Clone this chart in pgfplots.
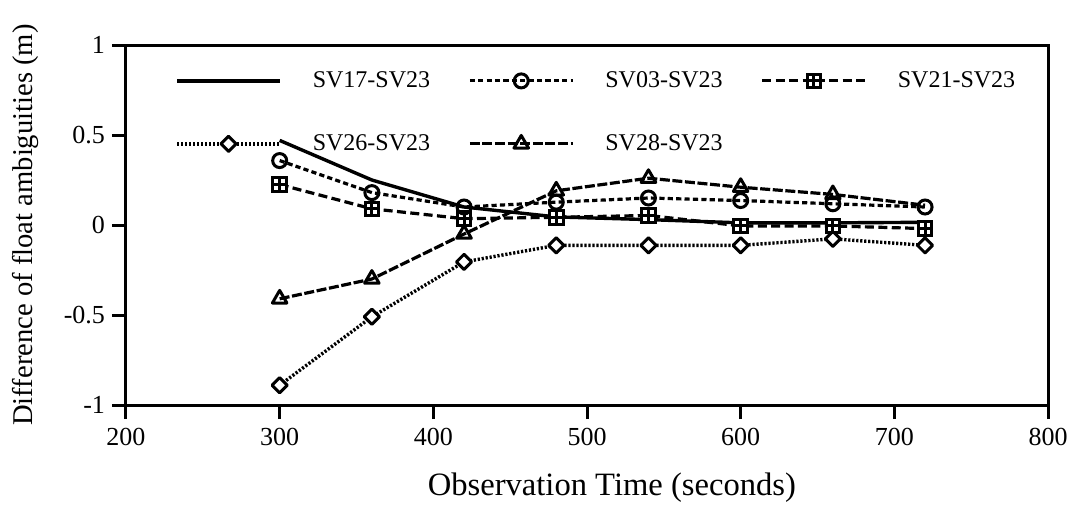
\documentclass[border=0pt]{standalone}
\usepackage{fontspec}
\setmainfont{Liberation Serif}
\usepackage{pgfplots}
\pgfplotsset{compat=1.18}
\usetikzlibrary{plotmarks}

\pgfdeclareplotmark{sqplus}{%
  \pgfpathrectangle{\pgfqpoint{-\pgfplotmarksize}{-\pgfplotmarksize}}{\pgfqpoint{2\pgfplotmarksize}{2\pgfplotmarksize}}%
  \pgfusepathqfillstroke
  \pgfpathmoveto{\pgfqpoint{-\pgfplotmarksize}{0pt}}\pgfpathlineto{\pgfqpoint{\pgfplotmarksize}{0pt}}%
  \pgfpathmoveto{\pgfqpoint{0pt}{-\pgfplotmarksize}}\pgfpathlineto{\pgfqpoint{0pt}{\pgfplotmarksize}}%
  \pgfusepathqstroke}
\pgfdeclareplotmark{rdiamond}{%
  \pgfpathmoveto{\pgfqpoint{0pt}{\pgfplotmarksize}}%
  \pgfpathlineto{\pgfqpoint{\pgfplotmarksize}{0pt}}%
  \pgfpathlineto{\pgfqpoint{0pt}{-\pgfplotmarksize}}%
  \pgfpathlineto{\pgfqpoint{-\pgfplotmarksize}{0pt}}%
  \pgfpathclose
  \pgfusepathqfillstroke}

\tikzset{
  sSV17/.style={line width=1.7pt, solid},
  sSV03/.style={line width=1.6pt, dash pattern=on 2.6pt off 1.6pt, mark=o, mark size=3.5pt, mark options={solid, fill=white, line width=1.5pt}},
  sSV21/.style={line width=1.6pt, dash pattern=on 4.5pt off 2.2pt, mark=sqplus, mark size=3.4pt, mark options={solid, fill=white, line width=1.5pt}},
  sSV26/.style={line width=1.7pt, dash pattern=on 1.1pt off 0.9pt, mark=rdiamond, mark size=3.8pt, mark options={solid, fill=white, line width=1.5pt, line join=round}},
  sSV28/.style={line width=1.6pt, dash pattern=on 5pt off 1.3pt, mark=triangle, mark size=4.2pt, mark options={solid, fill=white, line width=1.5pt, line join=round}},
}

\begin{document}
\begin{tikzpicture}
\path[use as bounding box] (-63pt,-50pt) rectangle (472pt,202.5pt);
\begin{axis}[
  scale only axis,
  width=461pt, height=180pt,
  xmin=200, xmax=800, ymin=-1, ymax=1,
  xtick={200,300,400,500,600,700,800},
  xticklabels={200,300,400,500,600,700,800},
  ytick={-1,-0.5,0,0.5,1},
  yticklabels={-1,-0.5,0,0.5,1},
  tick align=outside,
  xtick pos=bottom, ytick pos=left,
  major tick length=7pt,
  axis line style={line width=1.5pt},
  every tick/.style={line width=1.5pt, black},
  ticklabel style={font=\fontsize{13}{15}\selectfont},
  xticklabel style={yshift=-1pt},
  xlabel={Observation Time (seconds)},
  ylabel={Difference of float ambiguities (m)},
  xlabel style={font=\fontsize{16.3}{18}\selectfont, at={(axis description cs:0.527,0)}, anchor=base, yshift=-45pt},
  ylabel style={font=\fontsize{14.3}{17}\selectfont, at={(axis description cs:-0.1009,0.5)}, anchor=base, rotate=0},
  legend columns=3,
  legend image code/.code={\draw[mark repeat=2,mark phase=2,#1] plot coordinates {(0pt,0pt) (25.75pt,0pt) (51.5pt,0pt)};},
  legend style={draw=none, fill=none, inner sep=0pt,
    at={(axis description cs:0,1)}, anchor=north west, xshift=24.5pt, yshift=-13pt,
    font=\fontsize{12}{14}\selectfont,
    nodes={inner sep=0pt},
    row sep=22pt,
    /tikz/every odd column/.append style={column sep=15.5pt},
    /tikz/every even column/.append style={column sep=19pt}},
]
\addlegendimage{sSV17}\addlegendentry{SV17-SV23}
\addlegendimage{sSV03}\addlegendentry{SV03-SV23}
\addlegendimage{sSV21}\addlegendentry{SV21-SV23}
\addlegendimage{sSV26}\addlegendentry{SV26-SV23}
\addlegendimage{sSV28}\addlegendentry{SV28-SV23}

% SV26-SV23 (diamonds, dotted)
\addplot[sSV26, forget plot] coordinates {
(300,-0.89) (360,-0.51) (420,-0.205) (480,-0.113) (540,-0.113) (600,-0.113) (660,-0.077) (720,-0.113)};
% SV28-SV23 (triangles, long dash)
\addplot[sSV28, forget plot, mark indices={1,2,3,4,5,6,7}] coordinates {
(300,-0.41) (360,-0.30) (420,-0.05) (480,0.19) (540,0.26) (600,0.21) (660,0.17) (720,0.11)};
% SV21-SV23 (squares, dashed)
\addplot[sSV21, forget plot] coordinates {
(300,0.225) (360,0.09) (420,0.035) (480,0.043) (540,0.053) (600,-0.005) (660,-0.005) (720,-0.02)};
% SV17-SV23 (solid)
\addplot[sSV17, forget plot] coordinates {
(300,0.47) (360,0.25) (420,0.10) (480,0.045) (540,0.03) (600,0.012) (660,0.012) (720,0.015)};
% SV03-SV23 (circles, short dash)
\addplot[sSV03, forget plot] coordinates {
(300,0.358) (360,0.18) (420,0.10) (480,0.127) (540,0.15) (600,0.136) (660,0.118) (720,0.10)};
\end{axis}
\end{tikzpicture}
\end{document}
